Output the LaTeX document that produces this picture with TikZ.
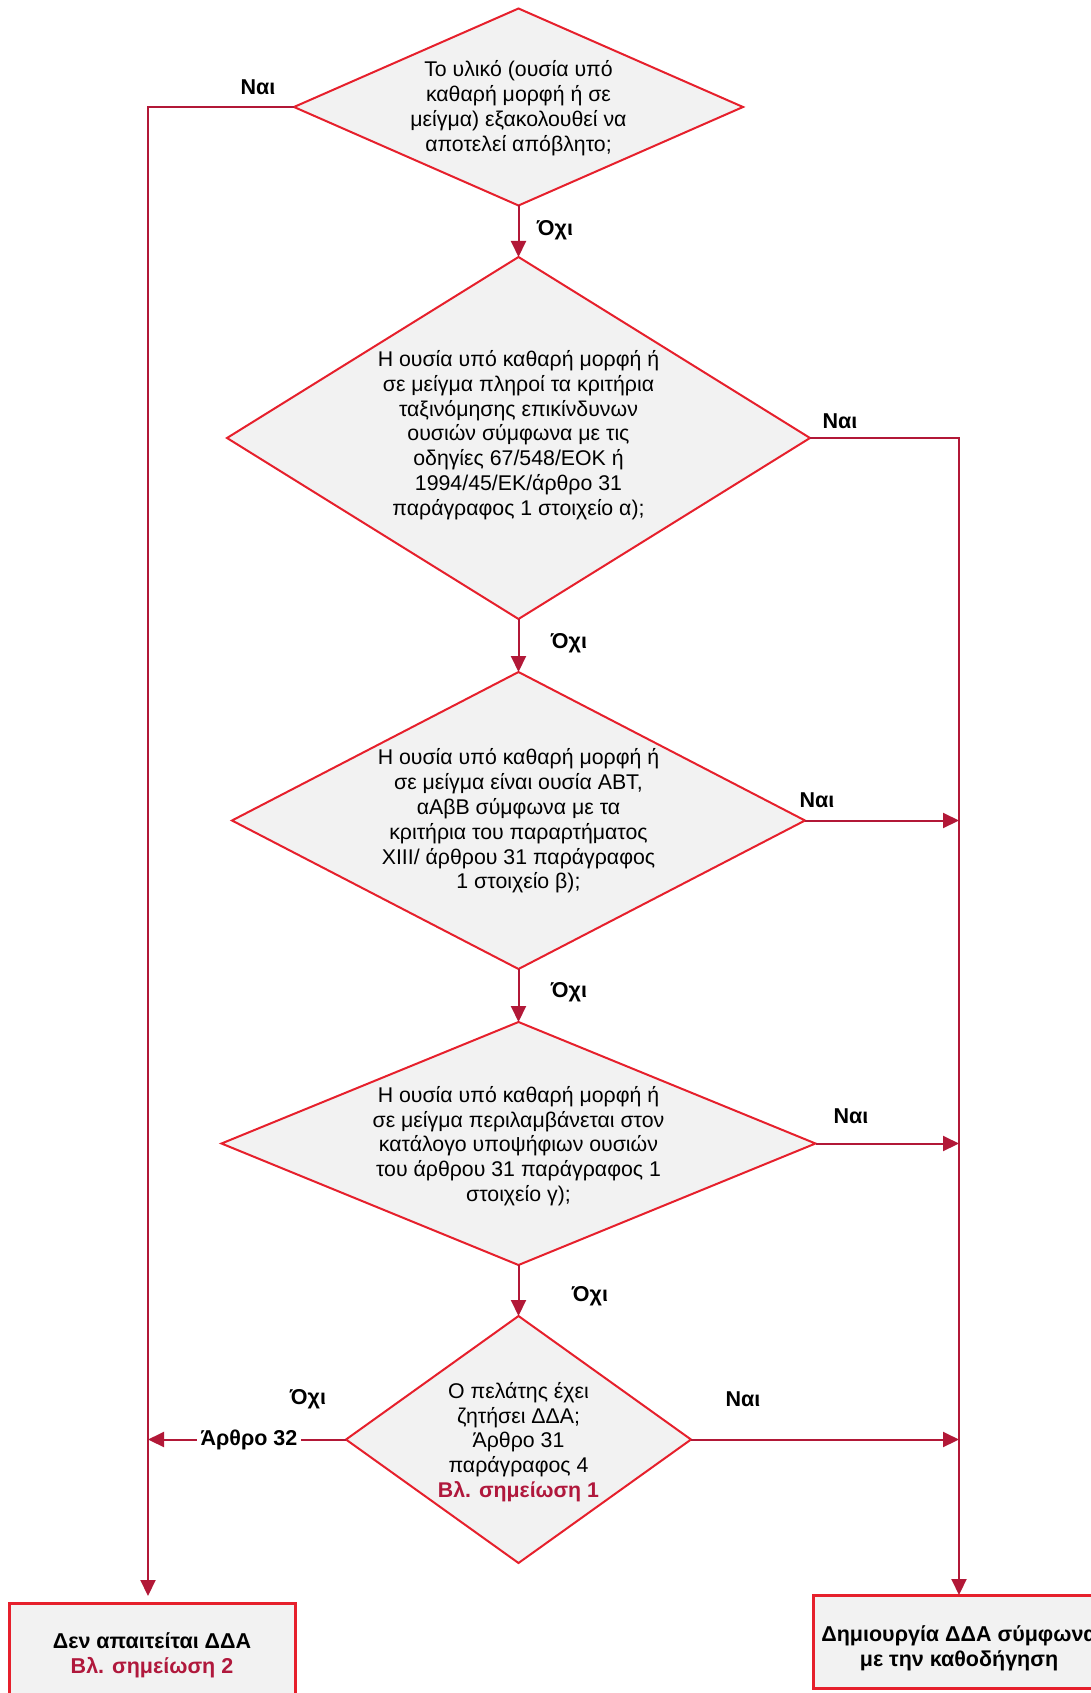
\documentclass[tikz,border=0pt]{standalone}
\usepackage{fontspec}
\setmainfont{Liberation Sans}
\usetikzlibrary{shapes.geometric,arrows.meta}
\definecolor{dborder}{RGB}{230,32,44}
\definecolor{dfill}{RGB}{242,242,242}
\definecolor{conncol}{RGB}{178,24,55}
\definecolor{notecol}{RGB}{176,24,60}
\begin{document}
\begin{tikzpicture}[x=1pt,y=-1pt,
  dec/.style={shape=diamond,draw=dborder,fill=dfill,line width=2pt,inner sep=0pt,outer sep=0pt},
  dtext/.style={align=center,font=\fontsize{21.3}{24.8}\selectfont,inner sep=0pt},
  endbox/.style={draw=dborder,fill=dfill,line width=3pt,inner sep=0pt,outer sep=0pt},
  lbl/.style={font=\fontsize{21.5}{24}\selectfont\bfseries,inner sep=1pt},
  conn/.style={draw=conncol,line width=2pt},
  arr/.style={-{Triangle[length=16pt,width=15pt]}}
]
\useasboundingbox (0,0) rectangle (1091,1693);
\clip (0,0) rectangle (1091,1693);

% decisions
\node[dec,minimum width=449pt,minimum height=197pt] (d1) at (518.5,107) {};
\node[dtext] (t1) at (518.5,108) {Το υλικό (ουσία υπό\\καθαρή μορφή ή σε\\μείγμα) εξακολουθεί να\\αποτελεί απόβλητο;};

\node[dec,minimum width=583pt,minimum height=362pt] (d2) at (518.5,438) {};
\node[dtext] (t2) at (518.5,435) {Η ουσία υπό καθαρή μορφή ή\\σε μείγμα πληροί τα κριτήρια\\ταξινόμησης επικίνδυνων\\ουσιών σύμφωνα με τις\\οδηγίες 67/548/ΕΟΚ ή\\1994/45/ΕΚ/άρθρο 31\\παράγραφος 1 στοιχείο α);};

\node[dec,minimum width=573pt,minimum height=297pt] (d3) at (518.5,820.5) {};
\node[dtext] (t3) at (518.5,821) {Η ουσία υπό καθαρή μορφή ή\\σε μείγμα είναι ουσία ΑΒΤ,\\αΑβΒ σύμφωνα με τα\\κριτήρια του παραρτήματος\\XIII/ άρθρου 31 παράγραφος\\1 στοιχείο β);};

\node[dec,minimum width=594pt,minimum height=243pt] (d4) at (518.5,1143.5) {};
\node[dtext] (t4) at (518.5,1146) {Η ουσία υπό καθαρή μορφή ή\\σε μείγμα περιλαμβάνεται στον\\κατάλογο υποψήφιων ουσιών\\του άρθρου 31 παράγραφος 1\\στοιχείο γ);};

\node[dec,minimum width=345pt,minimum height=247pt] (d5) at (518.5,1439.5) {};
\node[dtext] (t5) at (518.5,1442) {Ο πελάτης έχει\\ζητήσει ΔΔΑ;\\Άρθρο 31\\παράγραφος 4\\\textbf{\textcolor{notecol}{Βλ. σημείωση 1}}};

% end boxes
\node[endbox,minimum width=286pt,minimum height=110pt] (lbox) at (152,1658) {};
\node[dtext,font=\fontsize{21.5}{24.8}\selectfont\bfseries] (lboxt) at (152,1655) {Δεν απαιτείται ΔΔΑ\\\textcolor{notecol}{Βλ. σημείωση 2}};
\node[endbox,minimum width=292pt,minimum height=93pt] (rbox) at (959,1641.5) {};
\node[dtext,font=\fontsize{21.5}{24.8}\selectfont\bfseries] (rboxt) at (959,1648) {Δημιουργία ΔΔΑ σύμφωνα\\με την καθοδήγηση};

\coordinate (lc) at (148,1596);

% connectors
\draw[conn,arr] (d1.south) -- (d2.north);
\draw[conn,arr] (d2.south) -- (d3.north);
\draw[conn,arr] (d3.south) -- (d4.north);
\draw[conn,arr] (d4.south) -- (d5.north);
\draw[conn,arr] (d1.west) -| (lc);
\draw[conn,arr] (d2.east) -| (rbox.north);
\draw[conn,arr] (d3.east) -- (d3.east -| rbox.north);
\draw[conn,arr] (d4.east) -- (d4.east -| rbox.north);
\draw[conn,arr] (d5.east) -- (d5.east -| rbox.north);
\draw[conn,arr] (d5.west) -- node[lbl,fill=white,pos=0.49,inner xsep=4pt] (a32) {Άρθρο 32} (d5.west -| lc);

% labels
\node[lbl] (n1) at (258,87) {Ναι};
\node[lbl] (o1) at (555,230) {Όχι};
\node[lbl] (n2) at (840,421) {Ναι};
\node[lbl] (o2) at (569,643) {Όχι};
\node[lbl] (n3) at (817,800) {Ναι};
\node[lbl] (o3) at (569,992) {Όχι};
\node[lbl] (n4) at (851,1116) {Ναι};
\node[lbl] (o4) at (590,1296) {Όχι};
\node[lbl] (o5) at (308,1399) {Όχι};
\node[lbl] (n5) at (743,1399) {Ναι};
\end{tikzpicture}
\end{document}
